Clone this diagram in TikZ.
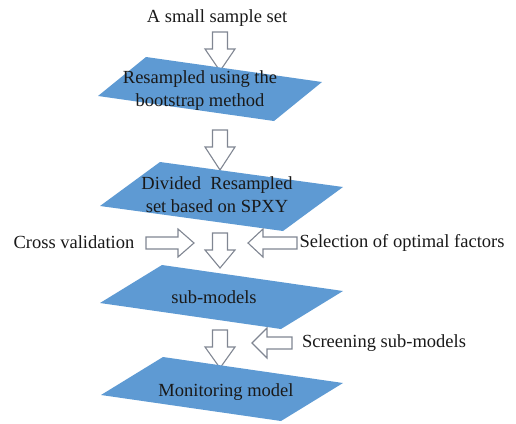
\documentclass[tikz,border=0pt]{standalone}
\usepackage{fontspec}
\setmainfont{Liberation Serif}
\begin{document}
\begin{tikzpicture}[x=1pt,y=-1pt,
  plane/.style={fill=planeblue,draw=none},
  label/.style={font=\fontsize{18.5}{23}\selectfont,text=inkdark,inner sep=0pt,align=center},
  blockarrow/.style={draw=arrowgray,fill=white,line width=1.1pt,line join=miter},
  downarrow/.pic={\draw[blockarrow] (-7.5,0) -- (7.5,0) -- (7.5,17) -- (15,17) -- (0,#1) -- (-15,17) -- (-7.5,17) -- cycle;}]
\definecolor{planeblue}{RGB}{94,154,211}
\definecolor{arrowgray}{RGB}{128,134,146}
\definecolor{inkdark}{RGB}{25,25,25}
\useasboundingbox (0,0) rectangle (516,423);

% input set and first step
\node[label] (input) at (217,18) {A small sample set};
\pic at (220,32) {downarrow=39};
\fill[plane] (98,96) -- (146,57) -- (322,82) -- (274,121) -- cycle;
\node[label] (resample) at (200,91) {Resampled using the\\bootstrap method};

% SPXY division
\pic at (220,130) {downarrow=40};
\fill[plane] (100,206) -- (160,162) -- (343,187) -- (283,231) -- cycle;
\node[label] (divide) at (217,195) {Divided\ \ Resampled\\set based on SPXY};

% side inputs into sub-model building
\node[label] (cv) at (74,242) {Cross validation};
\draw[blockarrow] (146,237) -- (178,237) -- (178,229) -- (194,243) -- (178,257) -- (178,249) -- (146,249) -- cycle;
\pic at (220,233) {downarrow=35};
\draw[blockarrow] (297,237) -- (263,237) -- (263,229) -- (248,243) -- (263,257) -- (263,249) -- (297,249) -- cycle;
\node[label] (factors) at (402,243) {Selection of optimal factors};

% sub-models
\fill[plane] (100,303) -- (162,265) -- (343,291) -- (281,329) -- cycle;
\node[label] (sub) at (214,297) {sub-models};

% screening
\pic at (220,330) {downarrow=38};
\draw[blockarrow] (292,337) -- (267,337) -- (267,328) -- (252,343) -- (267,358) -- (267,349) -- (292,349) -- cycle;
\node[label] (screen) at (384,343) {Screening sub-models};

% final model
\fill[plane] (101,395) -- (163,357) -- (343,383) -- (281,421) -- cycle;
\node[label] (monitor) at (226,392) {Monitoring model};
\end{tikzpicture}
\end{document}
